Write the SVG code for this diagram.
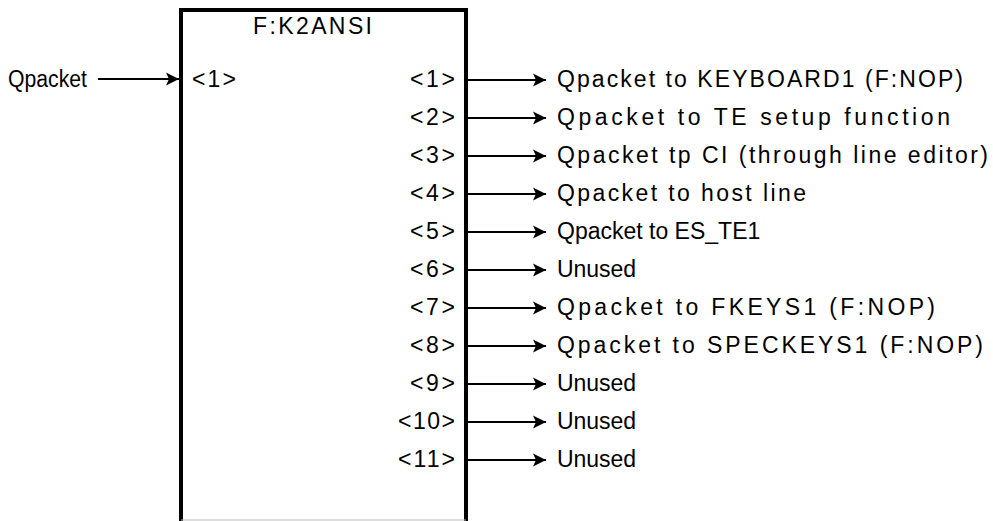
<svg xmlns="http://www.w3.org/2000/svg" width="993" height="521" viewBox="0 0 993 521">
<style>
text{font-family:"Liberation Sans",Arial,sans-serif;font-size:23px;fill:#000}
.c{stroke:#000;stroke-width:2;fill:none}
</style>
<defs>
<marker id="ah" markerUnits="userSpaceOnUse" markerWidth="16" markerHeight="16" refX="13" refY="7.5" orient="auto">
<path d="M0,1 L13,7.5 L0,14 L3,7.5 Z" fill="#000"/>
</marker>
</defs>
<rect width="993" height="521" fill="#fff"/>
<g id="block">
<path d="M181,521 V10 H466 V521" fill="none" stroke="#000" stroke-width="4"/>
<line x1="181" y1="520" x2="466" y2="520" stroke="#bbb" stroke-width="1"/>
<text x="253" y="34" textLength="119" lengthAdjust="spacing">F:K2ANSI</text>
<text x="192" y="87" textLength="44" lengthAdjust="spacing">&lt;1&gt;</text>
<text x="410" y="87" textLength="45" lengthAdjust="spacing">&lt;1&gt;</text>
<text x="410" y="125" textLength="45" lengthAdjust="spacing">&lt;2&gt;</text>
<text x="410" y="163" textLength="45" lengthAdjust="spacing">&lt;3&gt;</text>
<text x="410" y="201" textLength="45" lengthAdjust="spacing">&lt;4&gt;</text>
<text x="410" y="239" textLength="45" lengthAdjust="spacing">&lt;5&gt;</text>
<text x="410" y="277" textLength="45" lengthAdjust="spacing">&lt;6&gt;</text>
<text x="410" y="315" textLength="45" lengthAdjust="spacing">&lt;7&gt;</text>
<text x="410" y="353" textLength="45" lengthAdjust="spacing">&lt;8&gt;</text>
<text x="410" y="391" textLength="45" lengthAdjust="spacing">&lt;9&gt;</text>
<text x="398" y="429" textLength="57" lengthAdjust="spacing">&lt;10&gt;</text>
<text x="398" y="467" textLength="57" lengthAdjust="spacing">&lt;11&gt;</text>
</g>
<g id="input">
<text x="8" y="87" font-size="21" textLength="79" lengthAdjust="spacingAndGlyphs">Qpacket</text>
</g>
<g id="outputs">
<text x="557" y="87" textLength="406" lengthAdjust="spacing">Qpacket to KEYBOARD1 (F:NOP)</text>
<text x="557" y="125" textLength="393" lengthAdjust="spacing">Qpacket to TE setup function</text>
<text x="557" y="163" textLength="431" lengthAdjust="spacing">Qpacket tp CI (through line editor)</text>
<text x="557" y="201" textLength="249" lengthAdjust="spacing">Qpacket to host line</text>
<text x="557" y="239">Qpacket to ES_TE1</text>
<text x="557" y="277" textLength="79" lengthAdjust="spacing">Unused</text>
<text x="557" y="315" textLength="378" lengthAdjust="spacing">Qpacket to FKEYS1 (F:NOP)</text>
<text x="557" y="353" textLength="426" lengthAdjust="spacing">Qpacket to SPECKEYS1 (F:NOP)</text>
<text x="557" y="391" textLength="79" lengthAdjust="spacing">Unused</text>
<text x="557" y="429" textLength="79" lengthAdjust="spacing">Unused</text>
<text x="557" y="467" textLength="79" lengthAdjust="spacing">Unused</text>
</g>
<g id="connectors" class="c">
<line x1="98" y1="79" x2="179" y2="79" marker-end="url(#ah)"/>
<line x1="468" y1="80" x2="546" y2="80" marker-end="url(#ah)"/>
<line x1="468" y1="118" x2="546" y2="118" marker-end="url(#ah)"/>
<line x1="468" y1="156" x2="546" y2="156" marker-end="url(#ah)"/>
<line x1="468" y1="194" x2="546" y2="194" marker-end="url(#ah)"/>
<line x1="468" y1="232" x2="546" y2="232" marker-end="url(#ah)"/>
<line x1="468" y1="270" x2="546" y2="270" marker-end="url(#ah)"/>
<line x1="468" y1="308" x2="546" y2="308" marker-end="url(#ah)"/>
<line x1="468" y1="346" x2="546" y2="346" marker-end="url(#ah)"/>
<line x1="468" y1="384" x2="546" y2="384" marker-end="url(#ah)"/>
<line x1="468" y1="422" x2="546" y2="422" marker-end="url(#ah)"/>
<line x1="468" y1="460" x2="546" y2="460" marker-end="url(#ah)"/>
</g>
</svg>
